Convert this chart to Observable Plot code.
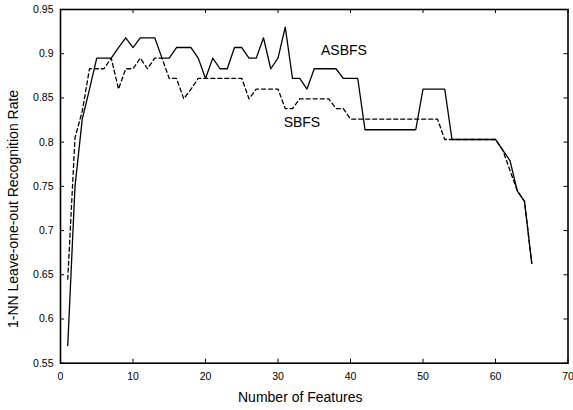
<!DOCTYPE html>
<html><head><meta charset="utf-8">
<script src="https://cdn.jsdelivr.net/npm/d3@7"></script>
<script src="https://cdn.jsdelivr.net/npm/@observablehq/plot@0.6"></script>
<style>body{margin:0;background:#fff} svg{display:block}</style>
</head><body><div id="chart"></div>
<script>
const features = [1,2,3,4,5,6,7,8,9,10,11,12,13,14,15,16,17,18,19,20,21,22,23,24,25,26,27,28,29,30,31,32,33,34,35,36,37,38,39,40,41,42,43,44,45,46,47,48,49,50,51,52,53,54,55,56,57,58,59,60,61,62,63,64,65];
const asbfs = [0.570,0.750,0.826,0.860,0.895,0.895,0.895,0.907,0.918,0.907,
 0.918,0.918,0.918,0.895,0.895,0.907,0.907,0.907,0.895,0.872,
 0.895,0.883,0.883,0.907,0.907,0.895,0.895,0.918,0.883,0.895,
 0.930,0.872,0.872,0.860,0.883,0.883,0.883,0.883,0.872,0.872,
 0.872,0.814,0.814,0.814,0.814,0.814,0.814,0.814,0.814,0.860,
 0.860,0.860,0.860,0.803,0.803,0.803,0.803,0.803,0.803,0.803,
 0.791,0.779,0.745,0.733,0.663];
const sbfs = [0.645,0.805,0.835,0.883,0.883,0.883,0.895,0.860,0.883,0.883,
 0.895,0.883,0.895,0.895,0.872,0.872,0.849,0.860,0.872,0.872,
 0.872,0.872,0.872,0.872,0.872,0.849,0.860,0.860,0.860,0.860,
 0.838,0.838,0.849,0.849,0.849,0.849,0.849,0.838,0.838,0.826,
 0.826,0.826,0.826,0.826,0.826,0.826,0.826,0.826,0.826,0.826,
 0.826,0.826,0.803,0.803,0.803,0.803,0.803,0.803,0.803,0.803,
 0.791,0.768,0.745,0.733,0.663];
const xTicks = [0,10,20,30,40,50,60,70];
const yTicks = [0.55,0.6,0.65,0.7,0.75,0.8,0.85,0.9,0.95];
const yTickLabels = ["0.55","0.6","0.65","0.7","0.75","0.8","0.85","0.9","0.95"];
const seriesNames = ["ASBFS","SBFS"];
const labelX = [39.1, 33.3];
const labelY = [0.9036, 0.8218];
const xTitle = "Number of Features";
const yTitle = "1-NN Leave-one-out Recognition Rate";

const W = 573, H = 410, mL = 60, mR = 5.5, mT = 9, mB = 47.3;
const plotW = W - mL - mR, plotH = H - mT - mB;
const tk = 4;

const rowsA = features.map((f, i) => ({x: f, y: asbfs[i]}));
const rowsS = features.map((f, i) => ({x: f, y: sbfs[i]}));
const labels = seriesNames.map((n, i) => ({name: n, x: labelX[i], y: labelY[i]}));

const chart = Plot.plot({
  width: W, height: H,
  marginLeft: mL, marginRight: mR, marginTop: mT, marginBottom: mB,
  style: {fontFamily: "'Liberation Sans', Arial, Helvetica, sans-serif", fontSize: "10px", background: "#fff", color: "#000"},
  x: {domain: [0, 70]},
  y: {domain: [0.55, 0.95]},
  marks: [
    Plot.axisX({ticks: xTicks, tickSize: 0, tickPadding: 9, label: null, fontSize: 10.5}),
    Plot.axisY({ticks: yTicks, tickSize: 0, tickPadding: 7, label: null, fontSize: 10.5, tickFormat: (d, i) => yTickLabels[i]}),
    Plot.tickX(xTicks, {x: d => d, insetTop: plotH - tk, stroke: "#000", strokeWidth: 1}),
    Plot.tickX(xTicks, {x: d => d, insetBottom: plotH - tk, stroke: "#000", strokeWidth: 1}),
    Plot.tickY(yTicks, {y: d => d, insetRight: plotW - tk, stroke: "#000", strokeWidth: 1}),
    Plot.tickY(yTicks, {y: d => d, insetLeft: plotW - tk, stroke: "#000", strokeWidth: 1}),
    Plot.line(rowsS, {x: "x", y: "y", stroke: "#000", strokeWidth: 1.3, strokeDasharray: "4,3"}),
    Plot.line(rowsA, {x: "x", y: "y", stroke: "#000", strokeWidth: 1.3}),
    Plot.frame({stroke: "#000", strokeWidth: 1.6}),
    Plot.text(labels, {x: "x", y: "y", text: "name", fontSize: 14, fill: "#000"}),
    Plot.text([xTitle], {text: d => d, frameAnchor: "bottom", textAnchor: "middle", lineAnchor: "middle", dy: 34, dx: -14, fontSize: 14, fill: "#000"}),
    Plot.text([yTitle], {text: d => d, frameAnchor: "left", textAnchor: "middle", lineAnchor: "middle", rotate: -90, dx: -47, dy: 22.6, fontSize: 14, fill: "#000"})
  ]
});
document.getElementById("chart").appendChild(chart);
</script>
</body></html>
